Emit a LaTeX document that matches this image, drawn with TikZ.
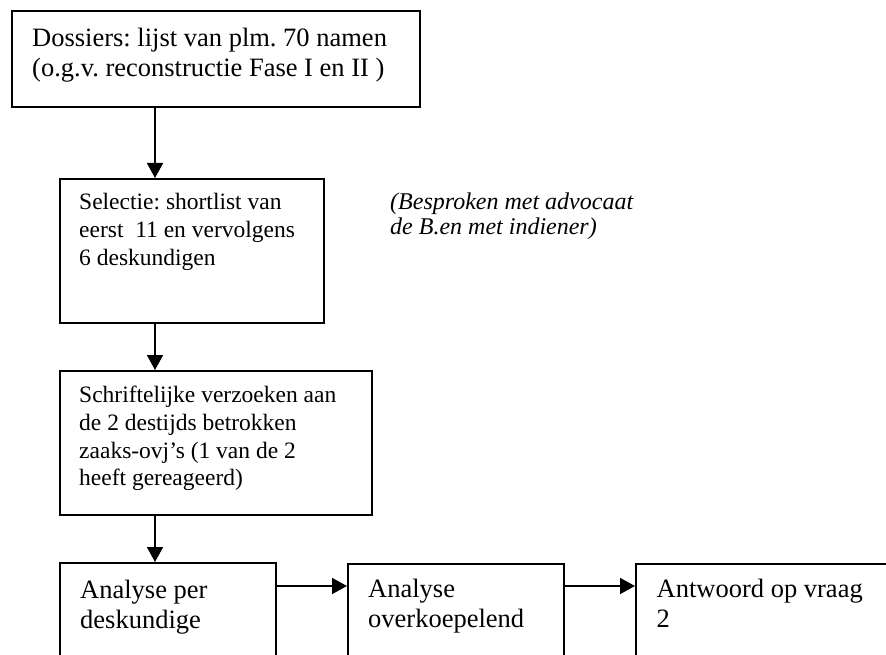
\documentclass[tikz,border=0pt]{standalone}
\usepackage{fontspec}
\setmainfont{Liberation Serif}
\usetikzlibrary{arrows.meta}
\frenchspacing
\newcommand{\mylines}[1]{\begin{tabular}[t]{@{}l@{}}#1\end{tabular}}
\tikzset{
  box/.style={draw=black, line width=1.7pt, rectangle, inner sep=0pt, anchor=north west},
  bigtxt/.style={anchor=base west, inner sep=0pt, font=\fontsize{26.5}{30}\selectfont},
  smalltxt/.style={anchor=base west, inner sep=0pt, font=\fontsize{23.5}{27.7}\selectfont},
  notetxt/.style={anchor=base west, inner sep=0pt, font=\fontsize{24}{25}\selectfont\itshape},
  arr/.style={line width=1.7pt, -{Triangle[length=15pt,width=16pt]}}
}
\begin{document}
\begin{tikzpicture}[x=1pt,y=-1pt]
\useasboundingbox (0,0) rectangle (886,655);
\clip (0,0) rectangle (886,655);
% boxes
\node[box, minimum width=408, minimum height=96] (b1) at (11,10) {};
\node[box, minimum width=264, minimum height=144] (b2) at (59,178) {};
\node[box, minimum width=312, minimum height=144] (b3) at (59,370) {};
\node[box, minimum width=216, minimum height=120] (b4) at (59,562) {};
\node[box, minimum width=216, minimum height=120] (b5) at (347,563) {};
\node[box, minimum width=300, minimum height=120] (b6) at (635,563) {};
% texts
\node[bigtxt] (t1) at (32,46.7) {\mylines{Dossiers: lijst van plm. 70 namen\\(o.g.v. reconstructie Fase I en II )}};
\node[smalltxt] (t2) at (79,210) {\mylines{Selectie: shortlist van\\eerst\ \ 11 en vervolgens\\6 deskundigen}};
\node[smalltxt] (t3) at (79,402.7) {\mylines{Schriftelijke verzoeken aan\\de 2 destijds betrokken\\zaaks-ovj’s (1 van de 2\\heeft gereageerd)}};
\node[bigtxt] (t4) at (80,598) {\mylines{Analyse per\\deskundige}};
\node[bigtxt] (t5) at (368,597) {\mylines{Analyse\\overkoepelend}};
\node[bigtxt] (t6) at (656.5,597) {\mylines{Antwoord op vraag\\2}};
\node[notetxt] (note) at (390,209.3) {\mylines{(Besproken met advocaat\\de B.en met indiener)}};
% connectors
\coordinate (ax) at (155,0);
\coordinate (ay) at (0,586);
\draw[arr] (b1.south -| ax) -- (b2.north -| ax);
\draw[arr] (b2.south -| ax) -- (b3.north -| ax);
\draw[arr] (b3.south -| ax) -- (b4.north -| ax);
\draw[arr] (b4.east |- ay) -- (b5.west |- ay);
\draw[arr] (b5.east |- ay) -- (b6.west |- ay);
\end{tikzpicture}
\end{document}
